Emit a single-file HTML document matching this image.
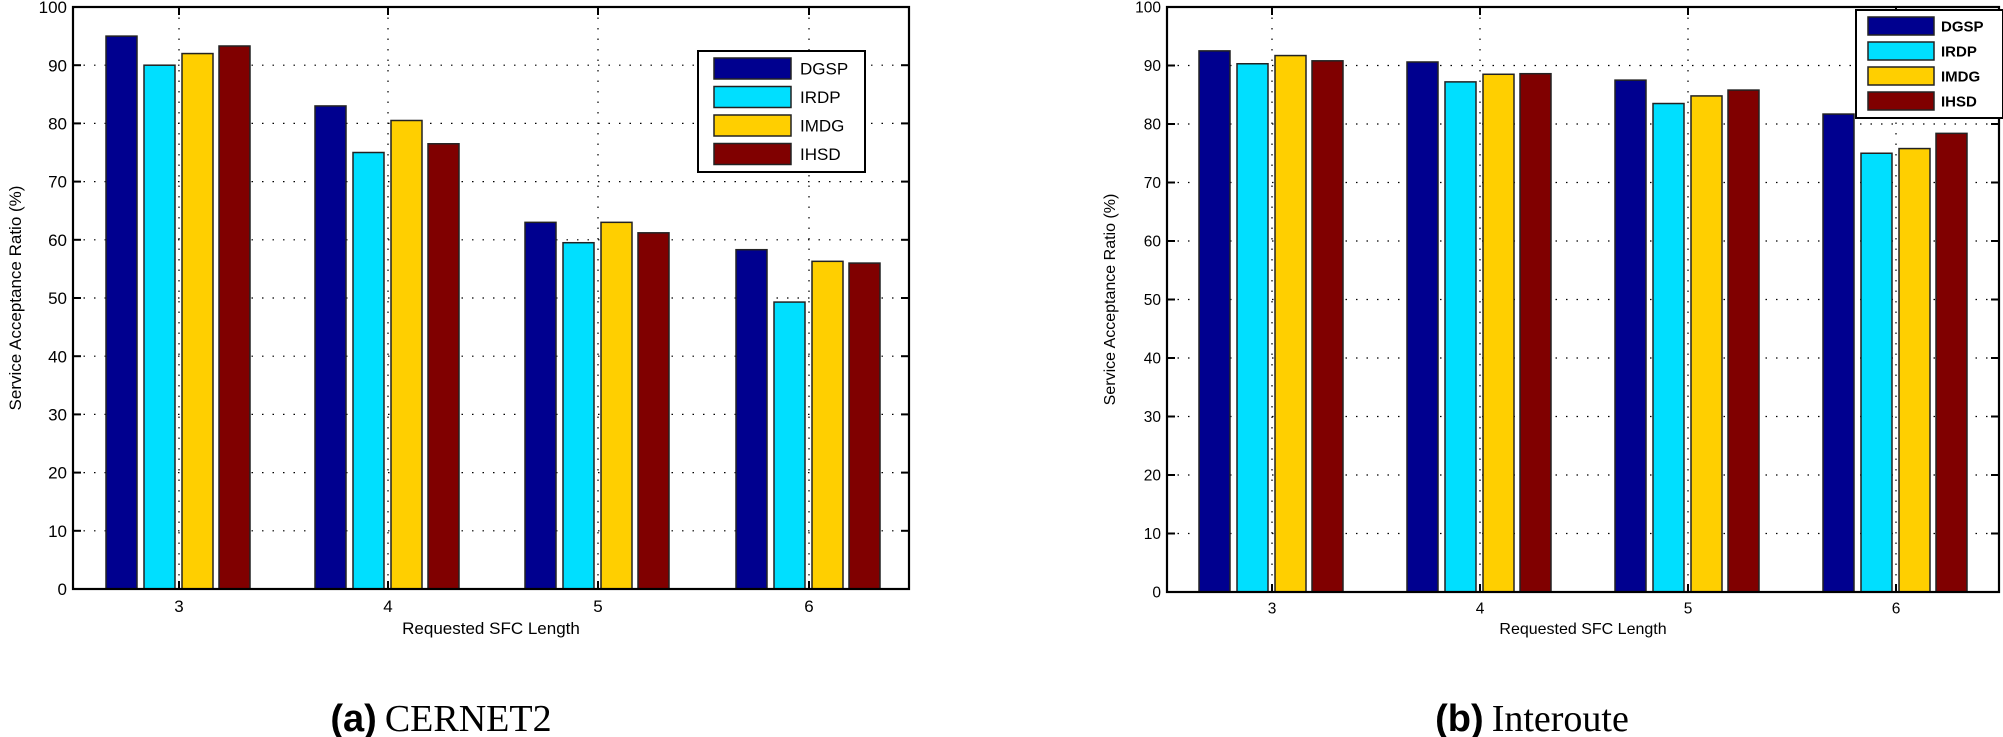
<!DOCTYPE html>
<html><head><meta charset="utf-8">
<style>
html,body{margin:0;padding:0;background:#fff;}
svg{display:block;}
text{font-family:"Liberation Sans",sans-serif;fill:#000;}
</style></head>
<body>
<svg id="s" width="2003" height="737" xmlns="http://www.w3.org/2000/svg">
<text x="441" y="731" text-anchor="middle" style="font-size:38px"><tspan style="font-weight:bold">(a)</tspan><tspan dx="8" style="font-family:'Liberation Serif',serif">CERNET2</tspan></text>
<text x="1532" y="731" text-anchor="middle" style="font-size:38px"><tspan style="font-weight:bold">(b)</tspan><tspan dx="8" style="font-family:'Liberation Serif',serif">Interoute</tspan></text>
</svg>
<script>
var S=document.getElementById('s'),NS='http://www.w3.org/2000/svg';
function el(t,a,txt){var e=document.createElementNS(NS,t);for(var k in a)e.setAttribute(k,a[k]);if(txt!=null)e.textContent=txt;S.appendChild(e);return e;}
var cols=['#00008f','#00dfff','#ffcf00','#800000'];
var names=['DGSP','IRDP','IMDG','IHSD'];
function chart(c){
  var L=c.L,R=c.R,T=c.T,B=c.B,ys=function(v){return B-(B-T)*v/100;};
  for(var v=10;v<100;v+=10){el('line',{x1:L,x2:R,y1:ys(v),y2:ys(v),stroke:'#000','stroke-width':1.2,'stroke-dasharray':'1.5 9'});}
  c.cx.forEach(function(x){el('line',{x1:x,x2:x,y1:T,y2:B,stroke:'#000','stroke-width':1.2,'stroke-dasharray':'1.5 9'});});
  c.cx.forEach(function(x,i){
    c.d[i].forEach(function(v,j){
      var bx=x+c.off[j];
      el('rect',{x:bx,y:ys(v),width:c.bw,height:B-ys(v),fill:cols[j],stroke:'#222','stroke-width':1.5});
    });
  });
  el('rect',{x:L,y:T,width:R-L,height:B-T,fill:'none',stroke:'#000','stroke-width':2.2});
  for(var v=0;v<=100;v+=10){
    el('line',{x1:L,x2:L+8,y1:ys(v),y2:ys(v),stroke:'#000','stroke-width':2});
    el('line',{x1:R-8,x2:R,y1:ys(v),y2:ys(v),stroke:'#000','stroke-width':2});
    el('text',{x:L-6,y:ys(v)+c.fs*0.36,'text-anchor':'end','font-size':c.fs},String(v));
  }
  c.cx.forEach(function(x,i){
    el('line',{x1:x,x2:x,y1:B-8,y2:B,stroke:'#000','stroke-width':2});
    el('line',{x1:x,x2:x,y1:T,y2:T+8,stroke:'#000','stroke-width':2});
    el('text',{x:x,y:B+c.fs+6,'text-anchor':'middle','font-size':c.fs},String(i+3));
  });
  el('text',{x:(L+R)/2,y:c.xty,'text-anchor':'middle','font-size':c.tfs},'Requested SFC Length');
  el('text',{x:c.ylx,y:(T+B)/2,'text-anchor':'middle','font-size':c.tfs,transform:'rotate(-90 '+c.ylx+' '+(T+B)/2+')'},'Service Acceptance Ratio (%)');
  var g=c.lg;
  el('rect',{x:g.x,y:g.y,width:g.w,height:g.h,fill:'#fff',stroke:'#000','stroke-width':2});
  for(var j=0;j<4;j++){
    var ry=g.r0+j*g.rs;
    el('rect',{x:g.sx,y:ry,width:g.sw,height:g.sh,fill:cols[j],stroke:'#222','stroke-width':1.5});
    el('text',{x:g.tx,y:ry+g.sh/2+g.fs*0.36,'font-size':g.fs,'font-weight':g.fw},names[j]);
  }
}
chart({L:73,R:909,T:7,B:589,cx:[179,388,598,809],off:[-73,-35,3,40],bw:31,fs:17,tfs:17,xty:634,ylx:21,
 d:[[95,90,92,93.3],[83,75,80.5,76.5],[63,59.5,63,61.2],[58.3,49.3,56.3,56]],
 lg:{x:698,y:51,w:167,h:121,sx:714,sw:77,sh:21,r0:58,rs:28.5,tx:800,fs:17,fw:'normal'}});
chart({L:1167,R:1999,T:7,B:592,cx:[1272,1480,1688,1896],off:[-73,-35,3,40],bw:31,fs:15.5,tfs:16,xty:634,ylx:1115,
 d:[[92.5,90.3,91.7,90.8],[90.6,87.2,88.5,88.6],[87.5,83.5,84.8,85.8],[81.7,75,75.8,78.4]],
 lg:{x:1856,y:10,w:147,h:108,sx:1868,sw:66,sh:18,r0:17,rs:25,tx:1941,fs:15,fw:'bold'}});
</script>
</body></html>
